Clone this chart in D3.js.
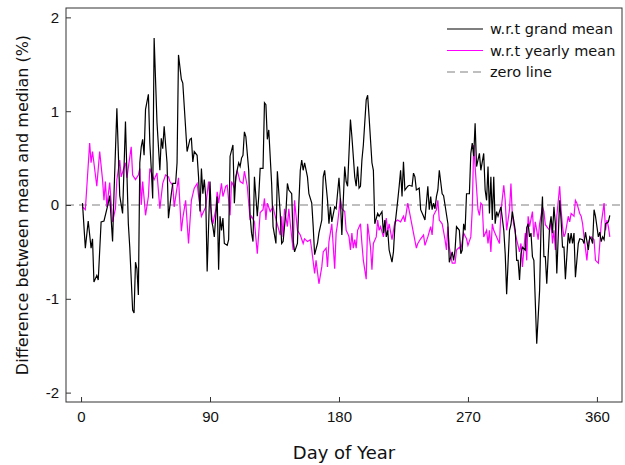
<!DOCTYPE html>
<html>
<head>
<meta charset="utf-8">
<script src="https://cdn.jsdelivr.net/npm/d3@7/dist/d3.min.js"></script>
<style>
	body { margin: 0; background: #fff; }
	svg { display: block; font-family: 'DejaVu Sans', Verdana, sans-serif; }
	.axis text { font-size: 15px; fill: #111; }
	.axis line { stroke: #333; }
</style>
</head>
<body>
<div id="chart"></div>
<script>
// day-of-year positions and values
var grandDays = [1,3,5,7,8,9,11,12,14,16,19,20,22,23,25,27,29,31,33,34,36,37,38,39,40,41,42,43,44,45,47,48,49,50,51,53,55,56,57,58,
	60,61,63,64,66,67,68,70,71,74,76,77,78,79,81,82,83,84,85,86,87,88,90,91,92,93,95,96,97,98,99,100,102,103,104,106,107,108,110,111,112,113,114,115,117,118,119,120,121,123,124,125,
	127,128,129,130,131,133,134,136,137,139,140,141,143,144,145,147,148,149,151,152,153,154,155,156,158,159,161,162,163,165,166,168,169,170,172,173,174,175,177,178,180,181,182,184,185,186,188,
	189,191,192,193,194,195,196,197,199,200,201,203,204,205,207,208,210,211,212,213,214,215,217,218,219,221,222,223,224,225,226,228,229,231,232,233,234,236,237,239,240,242,243,244,245,246,247,248,249,250,
	252,253,254,256,257,259,260,261,262,264,265,266,267,268,269,271,272,273,274,275,276,278,279,281,282,283,284,285,286,287,288,289,290,291,293,295,296,297,299,300,301,303,304,305,306,307,308,310,311,
	312,313,314,315,316,318,320,321,322,323,324,325,327,328,329,330,331,332,334,335,336,337,338,340,341,342,343,344,345,347,348,350,351,352,354,355,356,357,358,359,361,362,363,364,365,366,368,369];
var grandVals = [0.02,-0.46,-0.17,-0.46,-0.36,-0.82,-0.75,-0.80,-0.18,-0.17,0.02,0.10,-0.39,0.12,1.03,0.10,-0.09,0.89,-0.20,-0.45,-1.12,-1.15,-0.61,-0.68,-0.96,0.45,0.62,0.70,0.53,1.02,1.18,0.66,0.39,0.07,1.78,0.88,0.37,0.71,0.60,0.84,
	0.45,-0.14,0.12,0.23,0.23,0.45,1.60,1.34,1.30,0.57,0.70,0.71,0.46,0.57,0.53,0.30,-0.07,0.39,0.12,0.27,0.09,-0.71,0.25,-0.16,-0.23,-0.34,0.09,-0.69,-0.12,-0.27,-0.14,-0.41,-0.43,-0.37,0.52,0.64,0.02,0.30,0.45,0.41,0.50,0.53,0.78,0.73,0.37,-0.12,-0.30,-0.39,0.30,-0.12,0.09,0.39,
	0.39,1.09,1.07,0.70,0.80,0.23,-0.23,-0.41,0.36,-0.09,-0.41,-0.39,-0.07,0.23,0.16,0.12,-0.37,-0.50,-0.41,0.02,0.37,0.48,0.37,0.45,0.30,0.12,0.02,-0.23,-0.53,-0.41,-0.30,-0.16,0.30,0.37,0.05,-0.20,-0.02,-0.18,-0.02,-0.04,0.29,0.05,-0.32,0.41,0.25,0.20,0.91,
	0.73,0.30,0.20,0.41,0.18,0.20,0.48,0.64,1.12,1.17,0.94,0.45,0.37,-0.20,-0.09,-0.12,-0.07,-0.30,-0.16,-0.34,-0.27,-0.48,-0.61,-0.50,-0.23,0.05,0.20,0.37,0.09,0.46,0.16,0.20,0.21,0.20,0.34,0.30,0.16,0.18,-0.05,-0.12,-0.16,0.20,-0.05,0.09,-0.05,0.02,-0.04,0.09,0.16,0.37,
	0.12,0.10,0.00,-0.20,-0.61,-0.50,-0.59,-0.48,-0.23,-0.27,-0.52,-0.48,-0.20,-0.27,0.12,0.12,0.55,0.66,0.52,0.87,0.41,0.55,0.37,0.55,0.16,0.05,0.41,-0.09,0.30,-0.16,0.30,-0.20,-0.07,-0.12,-0.02,-0.27,-0.52,-0.95,-0.27,-0.21,-0.07,-0.27,-0.59,-0.59,-0.80,-0.52,-0.45,-0.48,-0.24,
	-0.20,-0.34,-0.30,-0.55,-0.59,-1.48,-0.91,-0.23,0.09,-0.55,-0.55,-0.84,-0.23,-0.12,-0.30,-0.02,-0.20,-0.73,0.05,-0.16,-0.45,-0.45,-0.79,-0.30,-0.41,-0.30,-0.41,-0.30,-0.77,-0.41,-0.36,-0.37,-0.41,-0.29,-0.48,-0.34,-0.36,-0.41,-0.05,-0.12,-0.34,-0.29,-0.39,-0.34,-0.37,-0.20,-0.18,-0.11];

var yearlyDays = [1,3,6,7,8,11,13,15,16,17,18,20,22,24,25,27,28,31,32,35,36,38,40,41,42,43,45,47,48,51,53,55,57,59,
	61,62,64,65,68,70,71,73,75,77,79,81,82,84,87,89,90,92,94,95,96,98,99,101,102,104,105,107,109,111,113,114,116,118,119,121,123,125,
	127,128,129,130,132,134,135,137,139,140,141,142,144,145,146,148,149,151,153,155,156,158,160,161,163,164,166,168,169,171,172,173,175,177,178,179,181,182,184,
	185,186,187,188,189,190,191,192,193,195,196,197,199,200,202,203,204,206,207,208,209,211,213,214,215,217,219,221,223,225,226,228,230,232,234,235,237,239,240,242,244,245,246,248,249,
	250,252,254,255,256,257,259,261,262,264,265,266,267,269,270,272,273,274,275,277,278,279,280,281,283,284,285,286,287,288,290,292,293,295,296,297,299,300,301,303,304,306,307,308,310,311,
	312,313,315,316,317,318,319,320,322,323,324,325,327,328,329,330,331,332,334,335,336,337,338,340,341,342,344,345,346,348,349,350,351,353,354,355,356,358,359,361,362,363,365,366,367,368,369];
var yearlyVals = [-0.02,-0.05,0.66,0.45,0.57,0.20,0.57,0.27,0.05,0.25,-0.02,0.24,-0.18,-0.04,0.27,0.48,0.30,0.45,0.29,0.62,0.32,0.27,0.32,0.39,0.00,0.25,-0.11,0.09,0.39,0.27,0.34,-0.04,0.23,0.32,
	0.30,0.25,0.21,-0.02,0.29,-0.28,-0.14,0.05,-0.41,0.05,0.18,0.23,0.10,-0.12,-0.02,0.25,0.02,-0.20,-0.05,0.14,0.02,0.23,0.09,0.20,0.21,-0.11,0.25,0.18,0.37,0.25,0.23,0.36,0.20,-0.16,-0.12,-0.18,-0.52,-0.08,
	-0.05,0.07,-0.16,0.02,-0.07,-0.02,-0.09,-0.21,-0.32,-0.12,-0.34,-0.04,-0.23,-0.04,-0.20,-0.48,0.05,-0.27,-0.32,-0.41,-0.36,-0.39,-0.37,-0.48,-0.73,-0.59,-0.84,-0.66,-0.50,-0.46,-0.66,-0.39,-0.20,-0.68,-0.30,-0.20,0.07,-0.04,-0.07,
	-0.27,-0.30,-0.34,-0.48,-0.30,-0.46,-0.37,-0.46,-0.27,-0.20,-0.41,-0.59,-0.79,-0.20,-0.45,-0.69,-0.41,-0.34,-0.16,-0.27,-0.23,-0.34,-0.14,-0.29,-0.20,-0.37,-0.18,-0.16,-0.18,-0.12,-0.18,0.02,-0.14,-0.30,-0.46,-0.41,-0.36,-0.32,-0.43,-0.34,-0.23,-0.32,-0.11,-0.05,0.05,
	-0.16,-0.20,-0.37,-0.48,-0.23,-0.45,-0.62,-0.62,-0.48,-0.45,-0.48,-0.39,-0.30,-0.36,-0.43,-0.34,-0.05,0.64,0.41,-0.05,-0.11,0.02,0.00,-0.34,-0.27,-0.41,-0.27,-0.50,-0.20,-0.27,-0.34,-0.41,-0.07,0.21,0.05,-0.27,-0.05,0.23,-0.12,-0.30,-0.37,-0.50,-0.41,-0.66,-0.30,-0.59,
	-0.12,-0.23,-0.07,-0.34,-0.18,-0.27,-0.37,-0.20,-0.02,-0.07,-0.21,-0.23,-0.27,-0.16,-0.41,-0.27,-0.48,-0.12,0.20,-0.05,-0.23,-0.34,-0.30,-0.12,-0.18,-0.09,-0.12,0.05,0.02,-0.09,-0.12,-0.20,-0.34,-0.59,-0.41,-0.36,-0.34,-0.37,-0.59,-0.62,-0.41,-0.20,0.02,-0.27,-0.16,-0.23,-0.34];

var xTicks = [0, 90, 180, 270, 360];
var yTicks = [-2, -1, 0, 1, 2];
var seriesNames = ['w.r.t grand mean', 'w.r.t yearly mean', 'zero line'];
var seriesColors = ['#000000', '#ff00ff', '#aaaaaa'];

(function(d3){
	'use strict';

	var margin = { top: 8, right: 3, bot: 63, left: 66 };
	var width = 625 - margin.left - margin.right;
	var height = 465 - margin.top - margin.bot;

	var xScale = d3.scaleLinear().domain([-10.5, 377.5]).range([0, width]);
	var yScale = d3.scaleLinear().domain([-2.1, 2.1]).range([height, 0]);

	var svg = d3.select('#chart').append('svg')
		.attr('width', 625)
		.attr('height', 465);

	var g = svg.append('g')
		.attr('transform', 'translate(' + margin.left + ',' + margin.top + ')');

	// zero line
	g.append('line')
		.attr('x1', 0).attr('x2', width)
		.attr('y1', yScale(0)).attr('y2', yScale(0))
		.attr('stroke', seriesColors[2])
		.attr('stroke-width', 1.5)
		.attr('stroke-dasharray', '8,5');

	var line = d3.line()
		.x(function(d){ return xScale(d[0]); })
		.y(function(d){ return yScale(d[1]); });

	function pairs(days, vals){
		return days.map(function(d, i){ return [d, vals[i]]; });
	}

	g.append('path')
		.datum(pairs(yearlyDays, yearlyVals))
		.attr('fill', 'none')
		.attr('stroke', seriesColors[1])
		.attr('stroke-width', 1.2)
		.attr('d', line);

	g.append('path')
		.datum(pairs(grandDays, grandVals))
		.attr('fill', 'none')
		.attr('stroke', seriesColors[0])
		.attr('stroke-width', 1.2)
		.attr('d', line);

	// axes, ticks point inward; plain hyphen for negatives
	var plain = function(d){ return String(d); };
	var xAxis = d3.axisBottom(xScale).tickValues(xTicks).tickFormat(plain).tickSize(-5).tickSizeOuter(0).tickPadding(9);
	var yAxis = d3.axisLeft(yScale).tickValues(yTicks).tickFormat(plain).tickSize(-5).tickSizeOuter(0).tickPadding(7);

	g.append('g').attr('class', 'axis')
		.attr('transform', 'translate(0,' + height + ')')
		.call(xAxis);
	g.append('g').attr('class', 'axis')
		.call(yAxis);
	g.selectAll('.axis .domain').remove();
	g.selectAll('.axis text').attr('font-family', null);

	// frame
	g.append('rect')
		.attr('x', 0).attr('y', 0)
		.attr('width', width).attr('height', height)
		.attr('fill', 'none')
		.attr('stroke', '#333')
		.attr('stroke-width', 1);

	// titles
	svg.append('text')
		.attr('x', margin.left + width / 2)
		.attr('y', 459)
		.attr('text-anchor', 'middle')
		.attr('font-size', 18)
		.attr('fill', '#111')
		.text('Day of Year');

	svg.append('text')
		.attr('transform', 'translate(28,' + (margin.top + yScale(0)) + ') rotate(-90)')
		.attr('text-anchor', 'middle')
		.attr('font-size', 16)
		.attr('fill', '#111')
		.text('Difference between mean and median (%)');

	// legend
	var legend = svg.append('g').attr('transform', 'translate(447,29)');
	var item = legend.selectAll('g').data(seriesNames).enter().append('g')
		.attr('transform', function(d, i){ return 'translate(0,' + (i * 21.5) + ')'; });
	item.append('line')
		.attr('x1', 0).attr('x2', 36)
		.attr('stroke', function(d, i){ return seriesColors[i]; })
		.attr('stroke-width', function(d, i){ return i === 2 ? 1.5 : 1.2; })
		.attr('stroke-dasharray', function(d, i){ return i === 2 ? '8,5' : null; });
	item.append('text')
		.attr('x', 43)
		.attr('y', 5)
		.attr('font-size', 14.5)
		.attr('fill', '#111')
		.text(function(d){ return d; });

})(window.d3);
</script>
</body>
</html>
